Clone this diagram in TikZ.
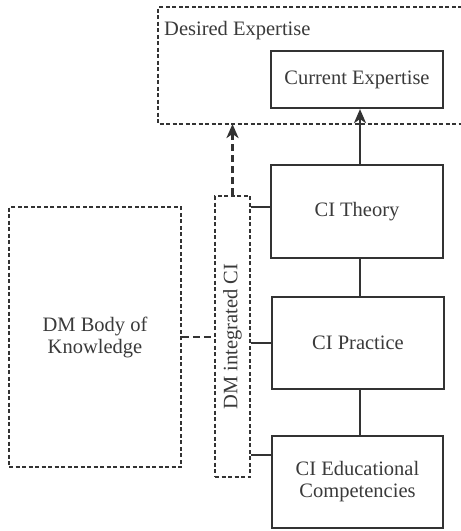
\documentclass[tikz,border=0pt]{standalone}
\usepackage{fontspec}
\setmainfont{Liberation Serif}
\usetikzlibrary{arrows.meta,calc}
\definecolor{ink}{HTML}{333333}
\definecolor{txt}{HTML}{3a3a3a}
\begin{document}
\begin{tikzpicture}[x=1pt,y=-1pt,
  every node/.style={font=\fontsize{20.5}{22}\selectfont, text=txt, align=center, inner sep=0pt},
  solidbox/.style={draw=ink, line width=2.2pt, rectangle},
  dashbox/.style={draw=ink, line width=1.7pt, dash pattern=on 4pt off 2.5pt, rectangle},
  link/.style={draw=ink, line width=2.2pt},
  tipshape/.style={-{Stealth[length=14pt,width=12pt,inset=4pt]}},
  thickarrow/.style={draw=ink, line width=2.8pt, tipshape},
  dasharrow/.style={draw=ink, line width=2.8pt, dash pattern=on 7pt off 4pt, tipshape},
  dashlink/.style={draw=ink, line width=2.6pt, dash pattern=on 7pt off 4pt}]
\useasboundingbox (0,0) rectangle (461,531);
% Desired expertise (open on the right)
\draw[ink, line width=1.7pt, dash pattern=on 4pt off 2.5pt] (462,7) -- (158,7) -- (158,124) -- (462,124);
\coordinate (dbot) at (158,124);
\node[anchor=base west] (desired) at (164,35) {Desired Expertise};
% boxes
\node[solidbox, minimum width=172pt, minimum height=57pt] (cur) at (357,79.5) {Current Expertise};
\node[solidbox, minimum width=172pt, minimum height=93pt] (theory) at (357,211.5) {CI Theory};
\node[solidbox, minimum width=172pt, minimum height=92pt] (practice) at (358,343) {CI Practice};
\node[solidbox, minimum width=171pt, minimum height=92pt] (edu) at (357.5,482) {CI Educational\\Competencies};
\node[dashbox, minimum width=35pt, minimum height=281pt] (dmi) at (232.5,336.5) {};
\node[rotate=90] (dmilabel) at (dmi.center) {DM integrated CI};
\node[dashbox, minimum width=172pt, minimum height=260pt] (body) at (95,337) {DM Body of\\Knowledge};
% connectors
\draw[thickarrow] (360,165) coordinate (tt) -- (tt |- cur.south);
\draw[link] (theory.south -| 360,0) -- (practice.north -| 360,0);
\draw[link] (practice.south -| 360,0) -- (edu.north -| 360,0);
\draw[link] (dmi.east |- 0,207) -- (theory.west |- 0,207);
\draw[link] (dmi.east |- practice.west) -- (practice.west);
\draw[link] (dmi.east |- 0,455) -- (edu.west |- 0,455);
\draw[dashlink] (body.east) -- (dmi.west |- body.east);
\draw[dasharrow] (dmi.north) -- (dmi.north |- dbot);
\end{tikzpicture}
\end{document}
